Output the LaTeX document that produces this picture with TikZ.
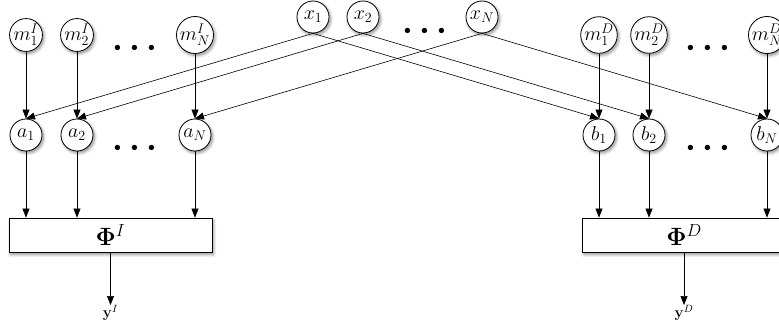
\RequirePackage{fix-cm}
\documentclass[tikz,border=0pt]{standalone}
\usetikzlibrary{arrows.meta,shadows.blur}
\begin{document}
\begin{tikzpicture}[x=1pt,y=-1pt,
  var/.style={circle,draw,thick,fill=white,minimum size=32pt,inner sep=0pt,
    font=\fontsize{20}{22}\selectfont,
    blur shadow={shadow xshift=1.5pt,shadow yshift=-2pt,shadow blur steps=6,shadow opacity=45,shadow blur radius=3pt}},
  fbox/.style={rectangle,draw,thick,fill=white,minimum width=203pt,minimum height=34pt,inner sep=0pt,
    font=\fontsize{25}{27}\selectfont,
    blur shadow={shadow xshift=1.5pt,shadow yshift=-2.5pt,shadow blur steps=6,shadow opacity=45,shadow blur radius=3pt}},
  dots/.style={inner sep=0pt,font=\fontsize{34}{34}\selectfont\boldmath},
  outlbl/.style={inner sep=0pt,font=\fontsize{15}{17}\selectfont},
  arr/.style={-{Triangle[length=9pt,width=7pt]},semithick}]
\useasboundingbox (0,0) rectangle (779,329);
% inputs
\node[var] (x1) at (313,17) {$x_1$};
\node[var] (x2) at (363,17) {$x_2$};
\node[var] (xN) at (482,17) {$x_N$};
\node[dots] (dx) at (425,31) {$\cdots$};
% left side
\node[var] (mI1) at (26,35) {$m^I_1$};
\node[var] (mI2) at (77,35) {$m^I_2$};
\node[var] (mIN) at (195,35) {$m^I_N$};
\node[dots] (dmI) at (135,48) {$\cdots$};
\node[var] (a1) at (26,135) {$a_1$};
\node[var] (a2) at (77,135) {$a_2$};
\node[var] (aN) at (195,135) {$a_N$};
\node[dots] (da) at (135,148) {$\cdots$};
\node[fbox] (PI) at (110.5,235) {$\mathbf{\Phi}^I$};
\node[outlbl] (yI) at (110.5,313) {$\mathbf{y}^I$};
% right side
\node[var] (mD1) at (599,35) {$m^D_1$};
\node[var] (mD2) at (649,35) {$m^D_2$};
\node[var] (mDN) at (767,35) {$m^D_N$};
\node[dots] (dmD) at (708,48) {$\cdots$};
\node[var] (b1) at (599,135) {$b_1$};
\node[var] (b2) at (649,135) {$b_2$};
\node[var] (bN) at (767,135) {$b_N$};
\node[dots] (db) at (708,148) {$\cdots$};
\node[fbox] (PD) at (684,235) {$\mathbf{\Phi}^D$};
\node[outlbl] (yD) at (684,313) {$\mathbf{y}^D$};
% connectors
\foreach \s/\t in {mI1/a1,mI2/a2,mIN/aN,mD1/b1,mD2/b2,mDN/bN}
  \draw[arr] (\s.south) -- (\t.north);
\foreach \s/\t in {x1/a1,x2/a2,xN/aN,x1/b1,x2/b2,xN/bN}
  \draw[arr] (\s.south) -- (\t.north);
\foreach \s in {a1,a2,aN}
  \draw[arr] (\s.south) -- (\s.south |- PI.north);
\foreach \s in {b1,b2,bN}
  \draw[arr] (\s.south) -- (\s.south |- PD.north);
\draw[arr] (PI.south) -- (yI.north);
\draw[arr] (PD.south) -- (yD.north);
\end{tikzpicture}
\end{document}
